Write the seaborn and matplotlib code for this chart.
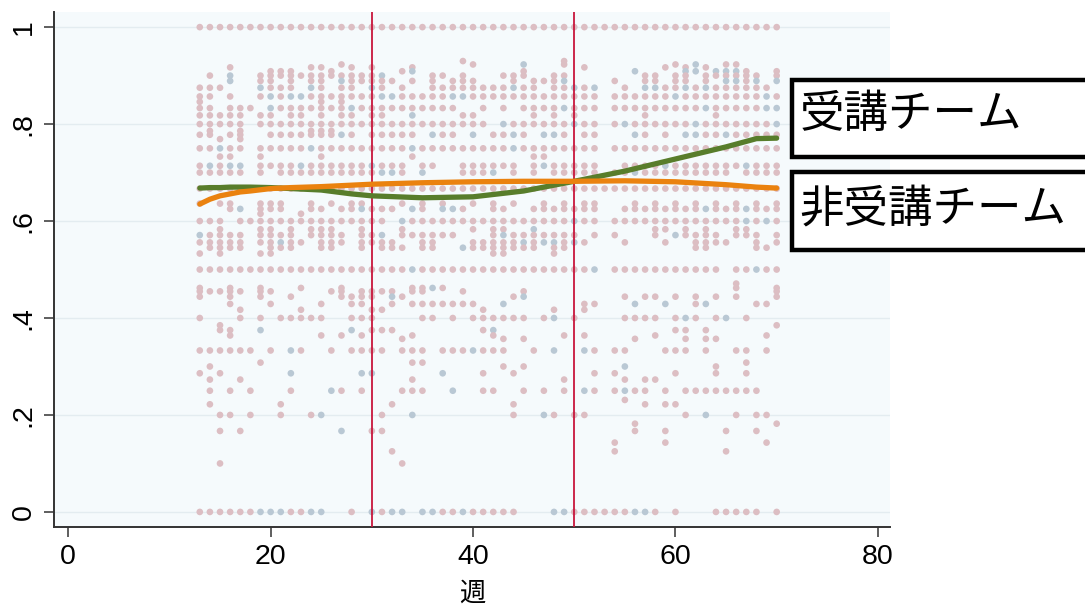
import matplotlib
matplotlib.use('Agg')
import matplotlib.pyplot as plt
from matplotlib.patches import Rectangle
import pandas as pd
import seaborn as sns

# smoothed team averages
line_weeks = [13, 14, 15, 16, 17, 18, 20, 22, 25, 28, 30, 35, 40, 45, 50, 55, 60, 65, 68, 70]
taken_rate = [0.668, 0.669, 0.669, 0.670, 0.670, 0.670, 0.669, 0.667, 0.664, 0.656, 0.652, 0.648,
              0.650, 0.662, 0.682, 0.703, 0.728, 0.753, 0.770, 0.771]
not_taken_rate = [0.635, 0.645, 0.652, 0.656, 0.660, 0.662, 0.667, 0.669, 0.671, 0.674, 0.676, 0.679,
                  0.681, 0.682, 0.682, 0.683, 0.681, 0.675, 0.670, 0.668]

# raw team-week points: y level and the weeks where a dot sits ("b" = light blue dot)
dot_levels = [1.0, 0.93, 0.923, 0.917, 0.909, 0.9, 0.889, 0.875, 0.857, 0.846, 0.833, 0.818, 0.8,
              0.786, 0.778, 0.769, 0.75, 0.733, 0.714, 0.7, 0.667, 0.636, 0.625, 0.615, 0.6,
              0.583, 0.571, 0.556, 0.545, 0.533, 0.5, 0.471, 0.462, 0.455, 0.444, 0.429, 0.417,
              0.4, 0.385, 0.375, 0.364, 0.357, 0.333, 0.308, 0.3, 0.286, 0.273, 0.25, 0.231,
              0.222, 0.2, 0.182, 0.167, 0.143, 0.125, 0.1, 0.0]
dot_weeks = [
    "13-70",
    "39 49",
    "27 40 45b 49 60 62b 65 66",
    "16 24 25 28 30 34 51 59 61 63",
    "20 21 22 26 33 34b 45 56b 61b 62b 64b 65b 66b 67 70",
    "14 16b 19 20 21 22 23 24 25 26 27 28 29 30 31b 36 37 39 43 44 45 48 49 57 58 60 61 63 64 65 66 67 68 70",
    "16b 19 20 22 24 25 27b 28 29 30 31 32 34 36 38 39 40 44 46 47 48 49b 54 57 58 60 61 63 65b 66b 67 68b 70b",
    "13 14 15 19b 20 21 22 24b 25 27 28 30b 31 33 36 37 38 39 40 41 42 43 44b 45 46 48 49 50b 51 52b 55 57b 58b 59 60 61b 62 63b 64 65 66 67 68 69",
    "13 14 16 19 20b 21 22b 23b 24 25 26 27 28 29 30 31b 32b 33 34 35 36 37 38b 39b 40 41 42 43 44 45 46 47 48 49 50 51 52 54 55 56 57 58 59 60b 61 62 63 64 65 66 67 68 69b 70",
    "13 25 27",
    "13 14 16 17 18 20b 21 22 23 24 25 26 27 28b 29 30 31 32 33 34 35 36 37 38 41 43 45 46 47 48 49b 50 51 52 54 55 56 57 58 59 60 61 62 63b 64 65 66 67 68 69b 70b",
    "13 14 15 16 17 19 20 22 23 25 27 28 30 31 34b 39 40 46 48 50 57 64",
    "13 14 15 16 17 19 20 21 22 23 24 25 26 27 28 29 30 31 32 33 34 35 36 37 38 39 40 41 43b 44 45 46 47 48 49 50b 51 52 54 55b 56 57 58 59 60 61 62b 63 64 65 66 67 68 69 70b",
    "14 17 24 25 26",
    "13 14 16 17 20 21 22 23 24 25 26 27b 28 30 31 32 33 34 36b 37 38 40b 42 43 44b 45 47b 48b 49 51 52 56b 57 59 61b 62b 63 64 65b 66 67 68 69 70",
    "15 17",
    "13 14 15b 16 17 19 20 21 22 23 24b 25 26 27 28 29 30 31 32 33 34b 35 36 37 38 39 40 41 42 43 44b 45 46 47 48 49 50 51 52 54 55 56 57 58 59 60 61 62 63 64 65 66 67 68 69 70",
    "15 16 19 25 34 46 47",
    "13 14b 15 16b 17b 19 20 21 22 23b 24 25 26 27 28 29 30b 31 32 33 35 36 39 40 41 42 43 44 46 47b 48 49 50 51 52 55 56 57 58 59b 60 61 62 63 64 65 66 67b 68 69 70",
    "13 14 15 16 17 19 21 22 23 24 25 26 27 28 29 30 31b 32b 33 35b 39 40 41 42b 44 46 48 49 50 51 52 54 55 56b 57 58 59 60 61 62 63 64 65 67 68 69 70",
    "13-70",
    "13 15 16 19 20 21 24 26 28 29 33 35 37 40 42 44 47 49 51 52 56 58 60 62 64 66 68 70",
    "16 17b 19 20 21 24 25 27 28 29b 30 31 32 34b 35 37b 38b 39 42 43 46 47 48 49 50 51 52 55 56 57 58 59 60 61 62 63b 64 65 66 67b 68 69 70",
    "19 23",
    "13 14 15 17 18 19 20 21 22 23 24 25 26 27 28 29 30 31 33b 34 35 36 37 38 39 40 41 42 43 44 45 46 47 48 49 50b 51 52 54 55 56 57 58 59 60 61 62 63 64 65 66 67b 68 69b 70",
    "15 19 20 22 24 25 26 29 33 40 42 43 46b 58 59 61 63 66 67",
    "13b 14 15 16 17 19 20 21 22 24 25 26 27 29 30 31b 33 34 35 36 37 38 42 43b 44 45 46 47 48 49 50 52 54 58 60b 61 62 63 64 66 67 68 70",
    "13 14 15 16 17 19 20 21b 22 23 25 26 27 29 30 31 32 35 36 40 41 42 43 44 45b 46 47b 48b 49 50b 51 55 59 62 63 64 65 68 70",
    "14 15 16 17 20 21 22 25 26 29 31 32 33 35 36 39b 40 41 42 43 44 45 46 48 49 62 63 68 69",
    "13 15 19 20 42 43 48",
    "13-33 34b 35-51 52b 54-64 66 67 68b 69 70",
    "66",
    "13 16 19 23 27 34 35 36b 37 66 70",
    "13 14 15 16 17 19 20 26 27 29 30 31 32 34 35 39 45 70",
    "13 16 19 22 27 28 29 30 32b 33 44 45b 55 57 58 60 62 64 66 70",
    "16 20 25 28 29 32 34 35 36 37 38 39 40 43b 51 52 56b 59b 62 63b 68 69",
    "17 23 30 31 41 48 51",
    "13 17 19 21 22 23 24 25 28 29 30 35 36 38 40 41 42 43 44 45 47 48b 50 55 56 57 58 60 61b 62 64 65b 67",
    "15 70",
    "15 16 19b 28b 30 31 32 41 42b 60 61 63",
    "16 25 27 29 34 42 49 51 58 69",
    "33 43 45 56 61 63 64",
    "13 14 15 16 17 18 20 22b 23 26 28 29 30 31 33 34 35 37 38 39 40b 41 42 43 46 48b 51b 52 54 55 59 60 61 63 66 67 69",
    "19 34 35 67",
    "14 43 45 55b 64",
    "13 15 22b 29b 30b 37b 41 44 52 54 60 64 67",
    "14 17 34 49 55 57 58",
    "14 16 18 22 26b 27 29 33 34 35 38b 41 42 45 47 49 51b 52 54 55b 56 57 59 61 62 63 64 65 66 67 68",
    "55",
    "14 21 32 44 57 59 60",
    "15 16 18 21 24 25b 31 34b 44 47b 48 50 51 61 63b 66 68 69",
    "56 70",
    "15 17 27b 30 31 56 59 65 68",
    "54 59 69",
    "32 54 65",
    "15 33",
    "13 14 15 16 17 18 19b 20b 21b 22 23 24b 25b 28 30b 31 32b 33b 35b 36b 37 38 39b 40 41 42 43 44 48b 49b 50 51 52 53 54 55 56b 57b 58 60 64 65 66 67 68 70",
]

cutoff_weeks = [30, 50]
x_ticks = [0, 20, 40, 60, 80]
y_ticks = [0, 0.2, 0.4, 0.6, 0.8, 1.0]
y_tick_labels = ['0', '.2', '.4', '.6', '.8', '1']


def parse_weeks(spec):
    out = []
    for tok in spec.split():
        blue = tok.endswith('b')
        tok = tok.rstrip('b')
        if '-' in tok:
            a, b = map(int, tok.split('-'))
            out += [(w, blue) for w in range(a, b + 1)]
        else:
            out.append((int(tok), blue))
    return out


rows = []
for level, spec in zip(dot_levels, dot_weeks):
    for w, blue in parse_weeks(spec):
        rows.append({'week': w, 'rate': level, 'group': '受講' if blue else '非受講'})
dots = pd.DataFrame(rows)

curves = pd.DataFrame({
    'week': line_weeks * 2,
    'rate': taken_rate + not_taken_rate,
    'team': ['受講チーム'] * len(line_weeks) + ['非受講チーム'] * len(line_weeks),
})

sns.set_theme(style='white')
plt.rcParams['font.family'] = ['Liberation Sans', 'Noto Sans CJK JP', 'DejaVu Sans']
plt.rcParams['text.color'] = 'black'
plt.rcParams['xtick.color'] = 'black'
plt.rcParams['ytick.color'] = 'black'

fig = plt.figure(figsize=(10.85, 6.05), dpi=100)
ax = fig.add_axes([0.0498, 0.129, 0.7705, 0.851])
ax.set_facecolor('#f5fafc')

for y in y_ticks:
    ax.axhline(y, color='#e3ecf0', lw=1, zorder=0)

sns.scatterplot(data=dots, x='week', y='rate', hue='group',
                palette={'非受講': '#dcbec3', '受講': '#b9c8d4'},
                s=23, linewidth=0, legend=False, ax=ax, zorder=2)

for w in cutoff_weeks:
    ax.axvline(w, color='#c8163c', lw=1.3, zorder=3)

sns.lineplot(data=curves, x='week', y='rate', hue='team',
             palette={'受講チーム': '#587d2b', '非受講チーム': '#ea820f'},
             lw=3.8, legend=False, ax=ax, zorder=4)

ax.set_xlim(-1.4, 81.2)
ax.set_ylim(-0.031, 1.031)
ax.set_xticks(x_ticks)
ax.set_xticklabels([str(t) for t in x_ticks], fontsize=20.5)
ax.set_yticks(y_ticks)
ax.set_yticklabels(y_tick_labels, fontsize=20.5, rotation=90, va='center')
ax.tick_params(axis='both', direction='out', length=7.5, width=1.1, color='#333333', pad=5,
               left=True, bottom=True, labelcolor='black')

for side in ['top', 'right']:
    ax.spines[side].set_visible(False)
for side in ['left', 'bottom']:
    ax.spines[side].set_color('#333333')
    ax.spines[side].set_linewidth(1.4)

ax.set_xlabel('週', fontsize=19, family=['Noto Sans CJK JP'], labelpad=7, color='black')
ax.set_ylabel('')

# legend boxes sticking out past the right edge
box_specs = [('受講チーム', 0.740, 0.128, 0.811), ('非受講チーム', 0.587, 0.129, 0.655)]
for label, y0, h, ty in box_specs:
    fig.add_artist(Rectangle((0.730, y0), 0.32, h, transform=fig.transFigure,
                             facecolor='white', edgecolor='black', lw=3.2, zorder=5))
    fig.text(0.737, ty, label, fontsize=32, family=['Noto Sans CJK JP'], color='black',
             va='center', ha='left', zorder=6)

fig.savefig('out.png', dpi=100)
